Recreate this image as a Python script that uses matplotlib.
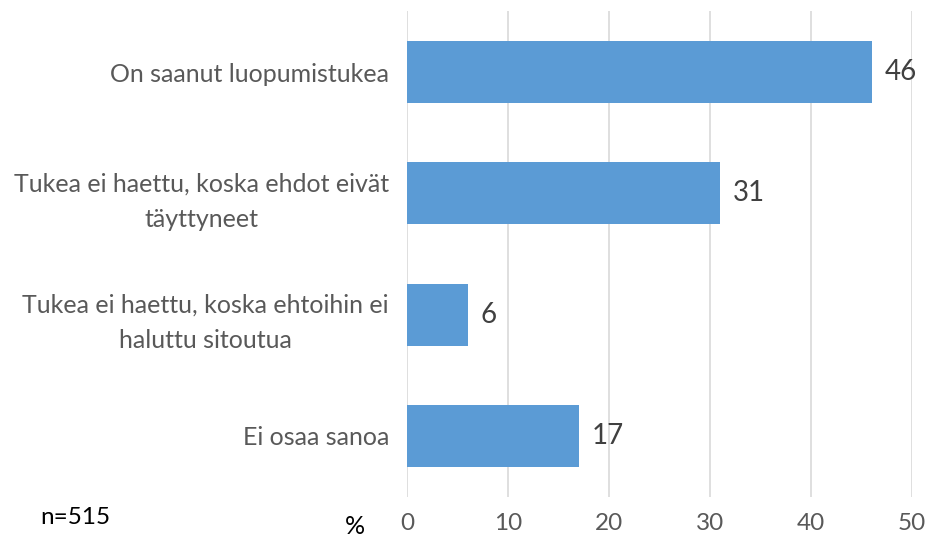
import matplotlib
matplotlib.use("Agg")
import matplotlib.pyplot as plt

categories = [
    "On saanut luopumistukea",
    "Tukea ei haettu, koska ehdot eivät\ntäyttyneet",
    "Tukea ei haettu, koska ehtoihin ei\nhaluttu sitoutua",
    "Ei osaa sanoa",
]
values = [46, 31, 6, 17]
xticks = [0, 10, 20, 30, 40, 50]

plt.rcParams['font.family'] = ['Lato', 'DejaVu Sans']

fig = plt.figure(figsize=(9.27, 5.41), dpi=100)
ax = fig.add_axes([0.439, 0.082, 0.545, 0.897])

y = list(range(len(categories)))
bars = ax.barh(y, values, height=0.51, color="#5B9BD5", zorder=3)
ax.set_ylim(len(categories) - 0.5, -0.5)
ax.set_xlim(0, 50)
ax.set_xticks(xticks)
ax.set_xticklabels([str(t) for t in xticks], fontsize=17.5, color="#595959")
ax.set_yticks(y)
ax.set_yticklabels(categories, fontsize=18, color="#595959", multialignment="center",
                   linespacing=1.65)
ax.tick_params(axis="y", length=0, pad=13)
ax.tick_params(axis="x", length=0, pad=12)
ax.grid(axis="x", color="#D9D9D9", linewidth=1.2, zorder=0)
for s in ax.spines.values():
    s.set_visible(False)

for b, v in zip(bars, values):
    ax.annotate(str(v), (b.get_width(), b.get_y() + b.get_height() / 2),
                xytext=(9, 0), textcoords="offset points", va="center", ha="left",
                fontsize=20, color="#404040")

fig.text(355 / 927, 1 - 527 / 541, "%", fontsize=18, color="black", ha="center", va="center")
fig.text(40 / 927, 1 - 517 / 541, "n=515", fontsize=17.5, color="black", ha="left", va="center")

fig.savefig("out.png", dpi=100)
